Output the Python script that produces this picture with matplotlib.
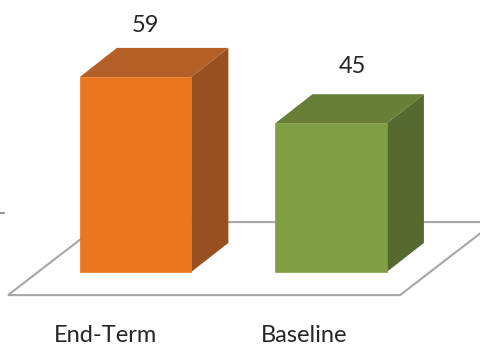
import matplotlib.pyplot as plt
from matplotlib.patches import Polygon

categories = ['End-Term', 'Baseline']
values = [59, 45]

front_colors = ['#E8771F', '#809E44']
top_colors = ['#B45F28', '#677F37']
side_colors = ['#985020', '#566930']

# bar geometry in data units (x = category slot, y = value)
bar_width = 0.57
depth_dx, depth_dy = 0.19, 8.8      # oblique offset of the bar depth
floor_left, floor_right = -0.652, 1.353
floor_front = -7.0
floor_dx, floor_dy = 0.485, 22.1

# perspective nudges for the text labels
value_label_dx = [-0.045, 0.017]
value_label_dy = [6.8, 8.5]
cat_label_dx = [-0.151, -0.138]

fig = plt.figure(figsize=(4.81, 3.47), dpi=100)
ax = fig.add_axes([0, 0, 1, 1])
ax.set_xlim(-0.693, 1.767)
ax.set_ylim(-22.7, 82.3)
ax.axis('off')

# floor plane
floor = Polygon([(floor_left, floor_front), (floor_right, floor_front),
                 (floor_right + floor_dx, floor_front + floor_dy),
                 (floor_left + floor_dx, floor_front + floor_dy)],
                closed=True, facecolor='white', edgecolor='#a6a6a6',
                linewidth=1.5, zorder=1)
ax.add_patch(floor)

# stray axis tick on the left
ax.plot([-0.693, -0.675], [17.9, 17.9], color='#808080', lw=1.2, zorder=1)

for i, (cat, v) in enumerate(zip(categories, values)):
    x0 = i - bar_width / 2
    x1 = i + bar_width / 2
    side = Polygon([(x1, 0), (x1 + depth_dx, depth_dy),
                    (x1 + depth_dx, v + depth_dy), (x1, v)],
                   closed=True, facecolor=side_colors[i], edgecolor='none', zorder=2)
    top = Polygon([(x0, v), (x1, v), (x1 + depth_dx, v + depth_dy),
                   (x0 + depth_dx, v + depth_dy)],
                  closed=True, facecolor=top_colors[i], edgecolor='none', zorder=2)
    front = Polygon([(x0, 0), (x1, 0), (x1, v), (x0, v)],
                    closed=True, facecolor=front_colors[i],
                    edgecolor=front_colors[i], linewidth=0.5, zorder=3)
    for p in (side, top, front):
        ax.add_patch(p)

    # value label above the bar
    ax.text(i + depth_dx / 2 + value_label_dx[i], v + depth_dy + value_label_dy[i],
            str(v), ha='center', va='center', fontsize=17, color='#262626',
            family='Lato')
    # category label under the floor
    ax.text(i + cat_label_dx[i], -19.2, cat, ha='center', va='center',
            fontsize=17, color='#262626', family='Lato')

fig.savefig('out.png', dpi=100)
